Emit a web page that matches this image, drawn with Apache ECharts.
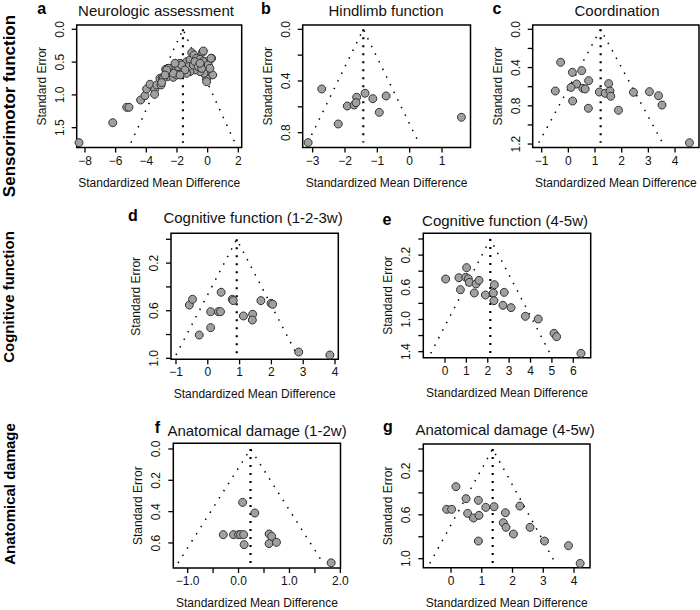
<!DOCTYPE html>
<html><head><meta charset="utf-8">
<script src="https://cdn.jsdelivr.net/npm/echarts@6/dist/echarts.min.js"></script>
<style>html,body{margin:0;padding:0;background:#fff}#c{width:700px;height:610px}</style>
</head><body><div id="c"></div>
<script>
// ---------- DATA ----------
const panelLetters = ['a','b','c','d','e','f','g'];
const panelTitles = ['Neurologic assessment','Hindlimb function','Coordination',
  'Cognitive function (1-2-3w)','Cognitive function (4-5w)',
  'Anatomical damage (1-2w)','Anatomical damage (4-5w)'];
const rowLabels = ['Sensorimotor function','Cognitive function','Anatomical damage'];

// Panel a : Neurologic assessment
const aSmd = [-8.39,-6.19,-5.28,-5.13,-4.37,-4.09,-3.98,-3.76,-3.45,-3.46,-3.32,-3.11,-2.96,-3.04,
  -2.74,-2.46,-2.61,-2.89,-3.0,-2.24,-2.02,-1.70,-1.80,-1.48,-1.37,-1.15,-1.04,-0.89,-0.72,-0.61,
  -0.33,-0.50,-0.24,-0.07,0.26,0.04,-0.11,0.33,-0.07,-0.07,-0.24,-0.50,-0.83,-1.15,-1.37,-1.59,
  -1.26,-0.93,-0.83,-2.13,-2.35,-1.91,-1.70,-1.48,-0.61,-0.39,-0.28,0.04,0.15,-2.24,-1.80,-0.50,
  -0.28,0.22,-2.57,-2.67,-2.78,-2.13];
const aSe = [1.728,1.424,1.189,1.189,1.078,1.012,0.910,0.838,0.915,0.991,0.849,0.747,0.738,0.849,
  0.61,0.645,0.72,0.747,0.813,0.732,0.696,0.645,0.518,0.559,0.493,0.467,0.356,0.391,0.442,0.518,
  0.351,0.457,0.544,0.493,0.442,0.620,0.645,0.696,0.757,0.798,0.671,0.645,0.62,0.645,0.671,0.61,
  0.569,0.544,0.493,0.62,0.595,0.569,0.544,0.62,0.569,0.595,0.493,0.544,0.595,0.67,0.696,0.518,
  0.331,0.442,0.595,0.62,0.697,0.518];
// Panel b : Hindlimb function
const bSmd = [-2.72,-1.64,-1.38,-1.14,-0.73,-1.93,-1.72,-1.66,-0.94,-2.21,1.60,-3.14];
const bSe  = [0.462,0.526,0.495,0.537,0.516,0.594,0.586,0.568,0.643,0.733,0.681,0.877];
// Panel c : Coordination
const cSmd = [-0.29,0.15,0.50,0.31,0.10,0.54,0.63,0.76,-0.49,0.16,0.75,1.16,1.38,1.51,1.56,1.59,1.88,2.44,3.04,3.38,3.51,4.54];
const cSe  = [0.345,0.45,0.432,0.572,0.607,0.617,0.624,0.537,0.645,0.75,0.826,0.656,0.669,0.568,0.645,0.70,0.847,0.659,0.652,0.694,0.792,1.186];
// Panel d : Cognitive function (1-2-3w)
const dSmd = [-0.58,-0.48,-0.27,0.09,0.09,0.33,0.40,0.42,0.77,0.80,1.12,1.41,1.40,1.67,1.99,2.04,2.86,3.84];
const dSe  = [0.552,0.504,0.804,0.742,0.608,0.608,0.608,0.445,0.504,0.515,0.644,0.630,0.678,0.515,0.538,0.546,0.947,0.972];
// Panel e : Cognitive function (4-5w)
const eSmd = [0.03,0.65,1.01,0.97,1.09,1.14,0.72,1.45,1.59,1.37,1.89,2.31,2.26,2.29,2.77,2.71,3.09,3.76,4.36,5.10,5.22,6.36];
const eSe  = [0.497,0.481,0.356,0.476,0.493,0.539,0.630,0.559,0.514,0.671,0.696,0.568,0.671,0.766,0.663,0.824,0.853,0.961,0.994,1.172,1.214,1.421];
// Panel f : Anatomical damage (1-2w)
const fSmd = [0.08,0.32,-0.30,-0.10,0.0,0.04,0.10,0.11,0.60,0.65,0.60,0.745,1.82];
const fSe  = [0.341,0.409,0.547,0.547,0.547,0.547,0.547,0.611,0.543,0.558,0.604,0.596,0.727];
// Panel g : Anatomical damage (4-5w)
const gSmd = [0.16,0.49,0.89,-0.14,0.02,0.54,0.73,0.91,1.13,1.40,1.77,2.24,1.70,1.79,2.03,2.57,0.89,3.04,3.82,4.20];
const gSe  = [0.343,0.453,0.468,0.550,0.550,0.587,0.629,0.605,0.532,0.526,0.581,0.520,0.672,0.714,0.775,0.714,0.839,0.839,0.881,1.043];

// funnel: pooled estimate, depth (max SE), lower/upper bound at depth
const pooledSmd   = [-1.61,-1.435,1.21,0.91,2.12,0.235,1.355];
const funnelDepth = [1.73,0.877,1.186,0.972,1.421,0.728,1.043];
const funnelLeft  = [-5.00,-3.15,-1.11,-1.00,-0.67,-1.19,-0.69];
const funnelRight = [1.78,0.28,3.53,2.81,4.91,1.66,3.40];

// tick values and labelled values
const xTicks = [[-8,-6,-4,-2,0,2],[-3,-2,-1,0,1],[-1,0,1,2,3,4],[-1,0,1,2,3,4],[0,1,2,3,4,5,6],
  [-1,-0.5,0,0.5,1,1.5,2],[0,1,2,3,4]];
const xLabels = [[-8,-6,-4,-2,0,2],[-3,-2,-1,0,1],[-1,0,1,2,3,4],[-1,0,1,2,3,4],[0,1,2,3,4,5,6],
  [-1,0,1,2],[0,1,2,3,4]];
const yTicks = [[0,0.5,1,1.5],[0,0.2,0.4,0.6,0.8],[0,0.2,0.4,0.6,0.8,1.0,1.2],[0,0.2,0.4,0.6,0.8,1.0],
  [0,0.2,0.4,0.6,0.8,1.0,1.2,1.4],[0,0.2,0.4,0.6],[0,0.2,0.4,0.6,0.8,1.0]];
const yLabels = [[0,0.5,1,1.5],[0,0.4,0.8],[0,0.4,0.8,1.2],[0.2,0.6,1.0],[0.2,0.6,1.0,1.4],
  [0,0.2,0.4,0.6],[0.2,0.6,1.0]];
const xDecimals = [0,0,0,0,0,1,0];

const smdList = [aSmd,bSmd,cSmd,dSmd,eSmd,fSmd,gSmd];
const seList  = [aSe,bSe,cSe,dSe,eSe,fSe,gSe];

// ---------- LAYOUT ----------
const boxes = [
  {l:76.7, t:25, r:241.7, b:147.5, x0:-8.541, x1:2.222, y0:-0.0655, y1:1.802},
  {l:302.7,t:25, r:470.5, b:147.5, x0:-3.309, x1:1.881, y0:-0.0333, y1:0.915},
  {l:532.7,t:25, r:699,   b:147.5, x0:-1.337, x1:4.898, y0:-0.045, y1:1.236},
  {l:171,  t:233.3,r:338.3,b:359.3,x0:-1.157, x1:4.104, y0:-0.0504,y1:1.008},
  {l:423.3,t:233.3,r:590.7,b:357.7,x0:-1.015, x1:6.815, y0:-0.0708,y1:1.475},
  {l:173.3,t:443.3,r:340.5,b:568.3,x0:-1.282, x1:2.003, y0:-0.0363,y1:0.760},
  {l:423.3,t:444, r:590,  b:567.7, x0:-0.901, x1:4.52,  y0:-0.0456,y1:1.082}
];
const TL = 5; // tick length (outside the box)
const titlePos  = [[156,10],[386,10],[617,10],[253,217],[505,220],[257,430],[505,429]];
const letterPos = [[41.7,8],[266,8],[497,8],[133,215],[387,219],[157.5,427],[388,426]];
const rowPos = [[9,106],[8.5,297],[9,494]];
const rowSize = [17,15,15];

const FF = '"Liberation Sans", Arial, Helvetica, sans-serif';
const grids=[], xAxes=[], yAxes=[], series=[], graphics=[];
const fmt = (v,d)=> { const s = d>0 ? v.toFixed(d) : String(Math.round(v)); return s.replace('-', '\u2212'); };
const inList = (v,list)=> list.some(u=>Math.abs(u-v)<1e-6);
const txt = () => ({color:'#111', fontSize:12, fontFamily:FF});
const hiddenAxis = (g)=>({gridIndex:g, type:'value', show:false, min:0, max:1});
const tickStroke = {stroke:'#000', lineWidth:1.3};

boxes.forEach((bx,i)=>{
  const W = bx.r-bx.l, H = bx.b-bx.t;
  const px = v => bx.l + (v-bx.x0)/(bx.x1-bx.x0)*W;
  const py = v => bx.t + (v-bx.y0)/(bx.y1-bx.y0)*H;
  const xt = xTicks[i], yt = yTicks[i];
  // main plotting box (carries the axis titles)
  const g0 = grids.length;
  grids.push({left:bx.l, top:bx.t, width:W, height:H, show:true,
    borderColor:'#000', borderWidth:1.5, backgroundColor:'transparent'});
  xAxes.push({gridIndex:g0, type:'value', min:bx.x0, max:bx.x1,
    axisLine:{show:false}, axisTick:{show:false}, axisLabel:{show:false}, splitLine:{show:false},
    name:'Standardized Mean Difference', nameLocation:'middle', nameGap:29, nameTextStyle:txt()});
  yAxes.push({gridIndex:g0, type:'value', min:bx.y0, max:bx.y1, inverse:true,
    axisLine:{show:false}, axisTick:{show:false}, axisLabel:{show:false}, splitLine:{show:false},
    name:'Standard Error', nameLocation:'middle', nameGap:29, nameTextStyle:txt()});
  // x label strip below the box
  const gx = grids.length;
  const xa = px(xt[0]), xb = px(xt[xt.length-1]);
  grids.push({left:xa, top:bx.b, width:xb-xa, height:TL, show:false});
  xAxes.push({gridIndex:gx, type:'value', position:'bottom', min:xt[0], max:xt[xt.length-1], interval:xt[1]-xt[0],
    axisLine:{show:false}, axisTick:{show:false}, splitLine:{show:false},
    axisLabel:{show:true, interval:0, margin:2, ...txt(), showMinLabel:true, showMaxLabel:true,
      formatter:(v)=> inList(v,xLabels[i]) ? fmt(v, xDecimals[i]) : ''}});
  yAxes.push(hiddenAxis(gx));
  // y label strip left of the box
  const gy = grids.length;
  const ya = py(yt[0]), yb = py(yt[yt.length-1]);
  grids.push({left:bx.l-TL, top:ya, width:TL, height:yb-ya, show:false});
  xAxes.push(hiddenAxis(gy));
  yAxes.push({gridIndex:gy, type:'value', position:'left', min:yt[0], max:yt[yt.length-1], interval:yt[1]-yt[0], inverse:true,
    axisLine:{show:false}, axisTick:{show:false}, splitLine:{show:false},
    axisLabel:{show:true, interval:0, margin:6, rotate:90, ...txt(), showMinLabel:true, showMaxLabel:true,
      formatter:(v)=> inList(v,yLabels[i]) ? fmt(v,1) : ''}});
  // tick marks drawn through the main box's scales (custom series, outside the box)
  series.push({type:'custom', xAxisIndex:g0, yAxisIndex:g0, silent:true, clip:false, z:2,
    data: xt.map(v=>[v, 0]), encode:{x:0, y:1},
    renderItem:(params, api)=>{
      const p = api.coord([api.value(0), bx.y1]);
      return {type:'line', shape:{x1:p[0], y1:p[1], x2:p[0], y2:p[1]+TL}, style:tickStroke};
    }});
  series.push({type:'custom', xAxisIndex:g0, yAxisIndex:g0, silent:true, clip:false, z:2,
    data: yt.map(v=>[pooledSmd[i], v]), encode:{x:0, y:1},
    renderItem:(params, api)=>{
      const p = api.coord([bx.x0, api.value(1)]);
      return {type:'line', shape:{x1:p[0], y1:p[1], x2:p[0]-TL, y2:p[1]}, style:tickStroke};
    }});
  // funnel lines
  series.push({type:'line', xAxisIndex:g0, yAxisIndex:g0, silent:true, symbol:'none', z:1,
    data:[[funnelLeft[i],funnelDepth[i]],[pooledSmd[i],0],[funnelRight[i],funnelDepth[i]]],
    lineStyle:{color:'#000', width:1.5, type:[1.5,7], cap:'butt'}});
  series.push({type:'line', xAxisIndex:g0, yAxisIndex:g0, silent:true, symbol:'none', z:1,
    data:[[pooledSmd[i],0],[pooledSmd[i],funnelDepth[i]]],
    lineStyle:{color:'#000', width:2.2, type:[2,6], cap:'butt'}});
  series.push({type:'scatter', xAxisIndex:g0, yAxisIndex:g0, z:3, symbol:'circle', symbolSize:8,
    data: smdList[i].map((x,k)=>[x, seList[i][k]]),
    itemStyle:{color:'#a0a0a0', borderColor:'#333', borderWidth:1, opacity:1}});
  graphics.push({type:'text', x:titlePos[i][0], y:titlePos[i][1], silent:true,
    style:{text:panelTitles[i], font:'15px '+FF, fill:'#111', textAlign:'center', textVerticalAlign:'middle', align:'center', verticalAlign:'middle'}});
  graphics.push({type:'text', x:letterPos[i][0], y:letterPos[i][1], silent:true,
    style:{text:panelLetters[i], font:'bold 16px '+FF, fill:'#000', textAlign:'center', textVerticalAlign:'middle', align:'center', verticalAlign:'middle'}});
});
rowLabels.forEach((t,i)=>{
  graphics.push({type:'text', x:rowPos[i][0], y:rowPos[i][1], rotation:Math.PI/2, silent:true,
    style:{text:t, font:'bold '+rowSize[i]+'px '+FF, fill:'#000', textAlign:'center', textVerticalAlign:'middle', align:'center', verticalAlign:'middle'}});
});

const chart = echarts.init(document.getElementById('c'), null, {renderer:'svg', width:700, height:610});
chart.setOption({animation:false, backgroundColor:'#fff', grid:grids, xAxis:xAxes, yAxis:yAxes, series:series, graphic:graphics});
</script></body></html>
